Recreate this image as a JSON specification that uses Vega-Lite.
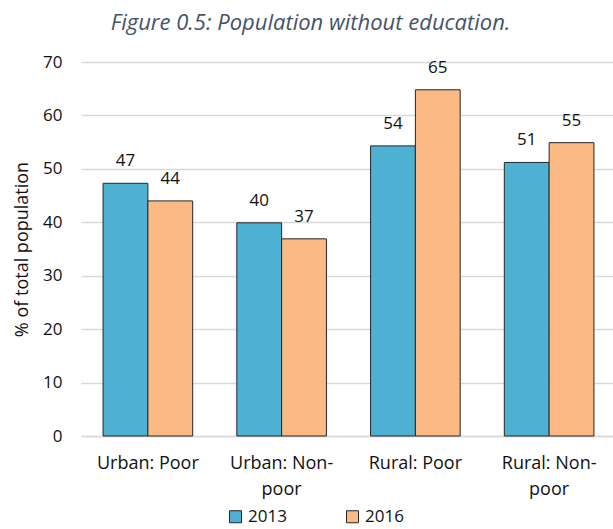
{
  "$schema": "https://vega.github.io/schema/vega-lite/v6.json",
  "width": 535,
  "height": 374,
  "autosize": {"type": "none"},
  "padding": {"left": 81, "top": 62, "right": 0, "bottom": 93},
  "background": "white",
  "title": {
    "text": "Figure 0.5: Population without education.",
    "font": "Open Sans",
    "fontSize": 22,
    "fontStyle": "italic",
    "fontWeight": "normal",
    "color": "#44546A",
    "anchor": "middle",
    "dx": -38,
    "offset": 18
  },
  "config": {
    "font": "Open Sans",
    "view": {"stroke": null},
    "text": {"font": "Open Sans"}
  },
  "data": {
    "values": [
      {"category": "Urban: Poor", "year": "2013", "value": 47.3},
      {"category": "Urban: Poor", "year": "2016", "value": 44.0},
      {"category": "Urban: Non-poor", "year": "2013", "value": 39.9},
      {"category": "Urban: Non-poor", "year": "2016", "value": 36.9},
      {"category": "Rural: Poor", "year": "2013", "value": 54.3},
      {"category": "Rural: Poor", "year": "2016", "value": 64.8},
      {"category": "Rural: Non-poor", "year": "2013", "value": 51.2},
      {"category": "Rural: Non-poor", "year": "2016", "value": 54.9}
    ]
  },
  "encoding": {
    "x": {
      "field": "category",
      "type": "nominal",
      "sort": null,
      "scale": {"paddingInner": 0.33, "paddingOuter": 0.165},
      "axis": {
        "title": null,
        "labelAngle": 0,
        "labelFontSize": 18,
        "labelColor": "#111111",
        "labelPadding": 18,
        "labelLineHeight": 26,
        "labelExpr": "split(replace(datum.label, 'Non-poor', 'Non-|poor'), '|')",
        "ticks": false,
        "domain": true,
        "domainColor": "#D9D9D9",
        "domainWidth": 1.5
      }
    },
    "xOffset": {"field": "year", "type": "nominal", "sort": ["2013", "2016"]},
    "y": {
      "field": "value",
      "type": "quantitative",
      "scale": {"domain": [0, 70]},
      "axis": {
        "title": "% of total population",
        "titleFontSize": 18,
        "titleFontWeight": "normal",
        "titleColor": "#111111",
        "titlePadding": 11,
        "values": [0, 10, 20, 30, 40, 50, 60, 70],
        "labelFontSize": 17,
        "labelColor": "#111111",
        "labelPadding": 19,
        "ticks": false,
        "domain": false,
        "grid": true,
        "gridColor": "#D9D9D9",
        "gridWidth": 1.3
      }
    }
  },
  "layer": [
    {
      "mark": {"type": "bar", "stroke": "#262626", "strokeWidth": 1},
      "encoding": {
        "color": {
          "field": "year",
          "type": "nominal",
          "scale": {"domain": ["2013", "2016"], "range": ["#4EB1D3", "#FBBA84"]},
          "legend": {
            "title": null,
            "orient": "none",
            "direction": "horizontal",
            "legendX": 146,
            "legendY": 446,
            "symbolType": "square",
            "symbolSize": 144,
            "symbolStrokeColor": "#262626",
            "symbolStrokeWidth": 1,
            "symbolOpacity": 1,
            "labelFontSize": 17,
            "labelColor": "#111111",
            "labelOffset": 4,
            "columnPadding": 57
          }
        }
      }
    },
    {
      "mark": {"type": "text", "baseline": "alphabetic", "dy": -17, "fontSize": 17, "color": "#111111"},
      "encoding": {
        "text": {"field": "value", "type": "quantitative", "format": ".0f"}
      }
    }
  ]
}
